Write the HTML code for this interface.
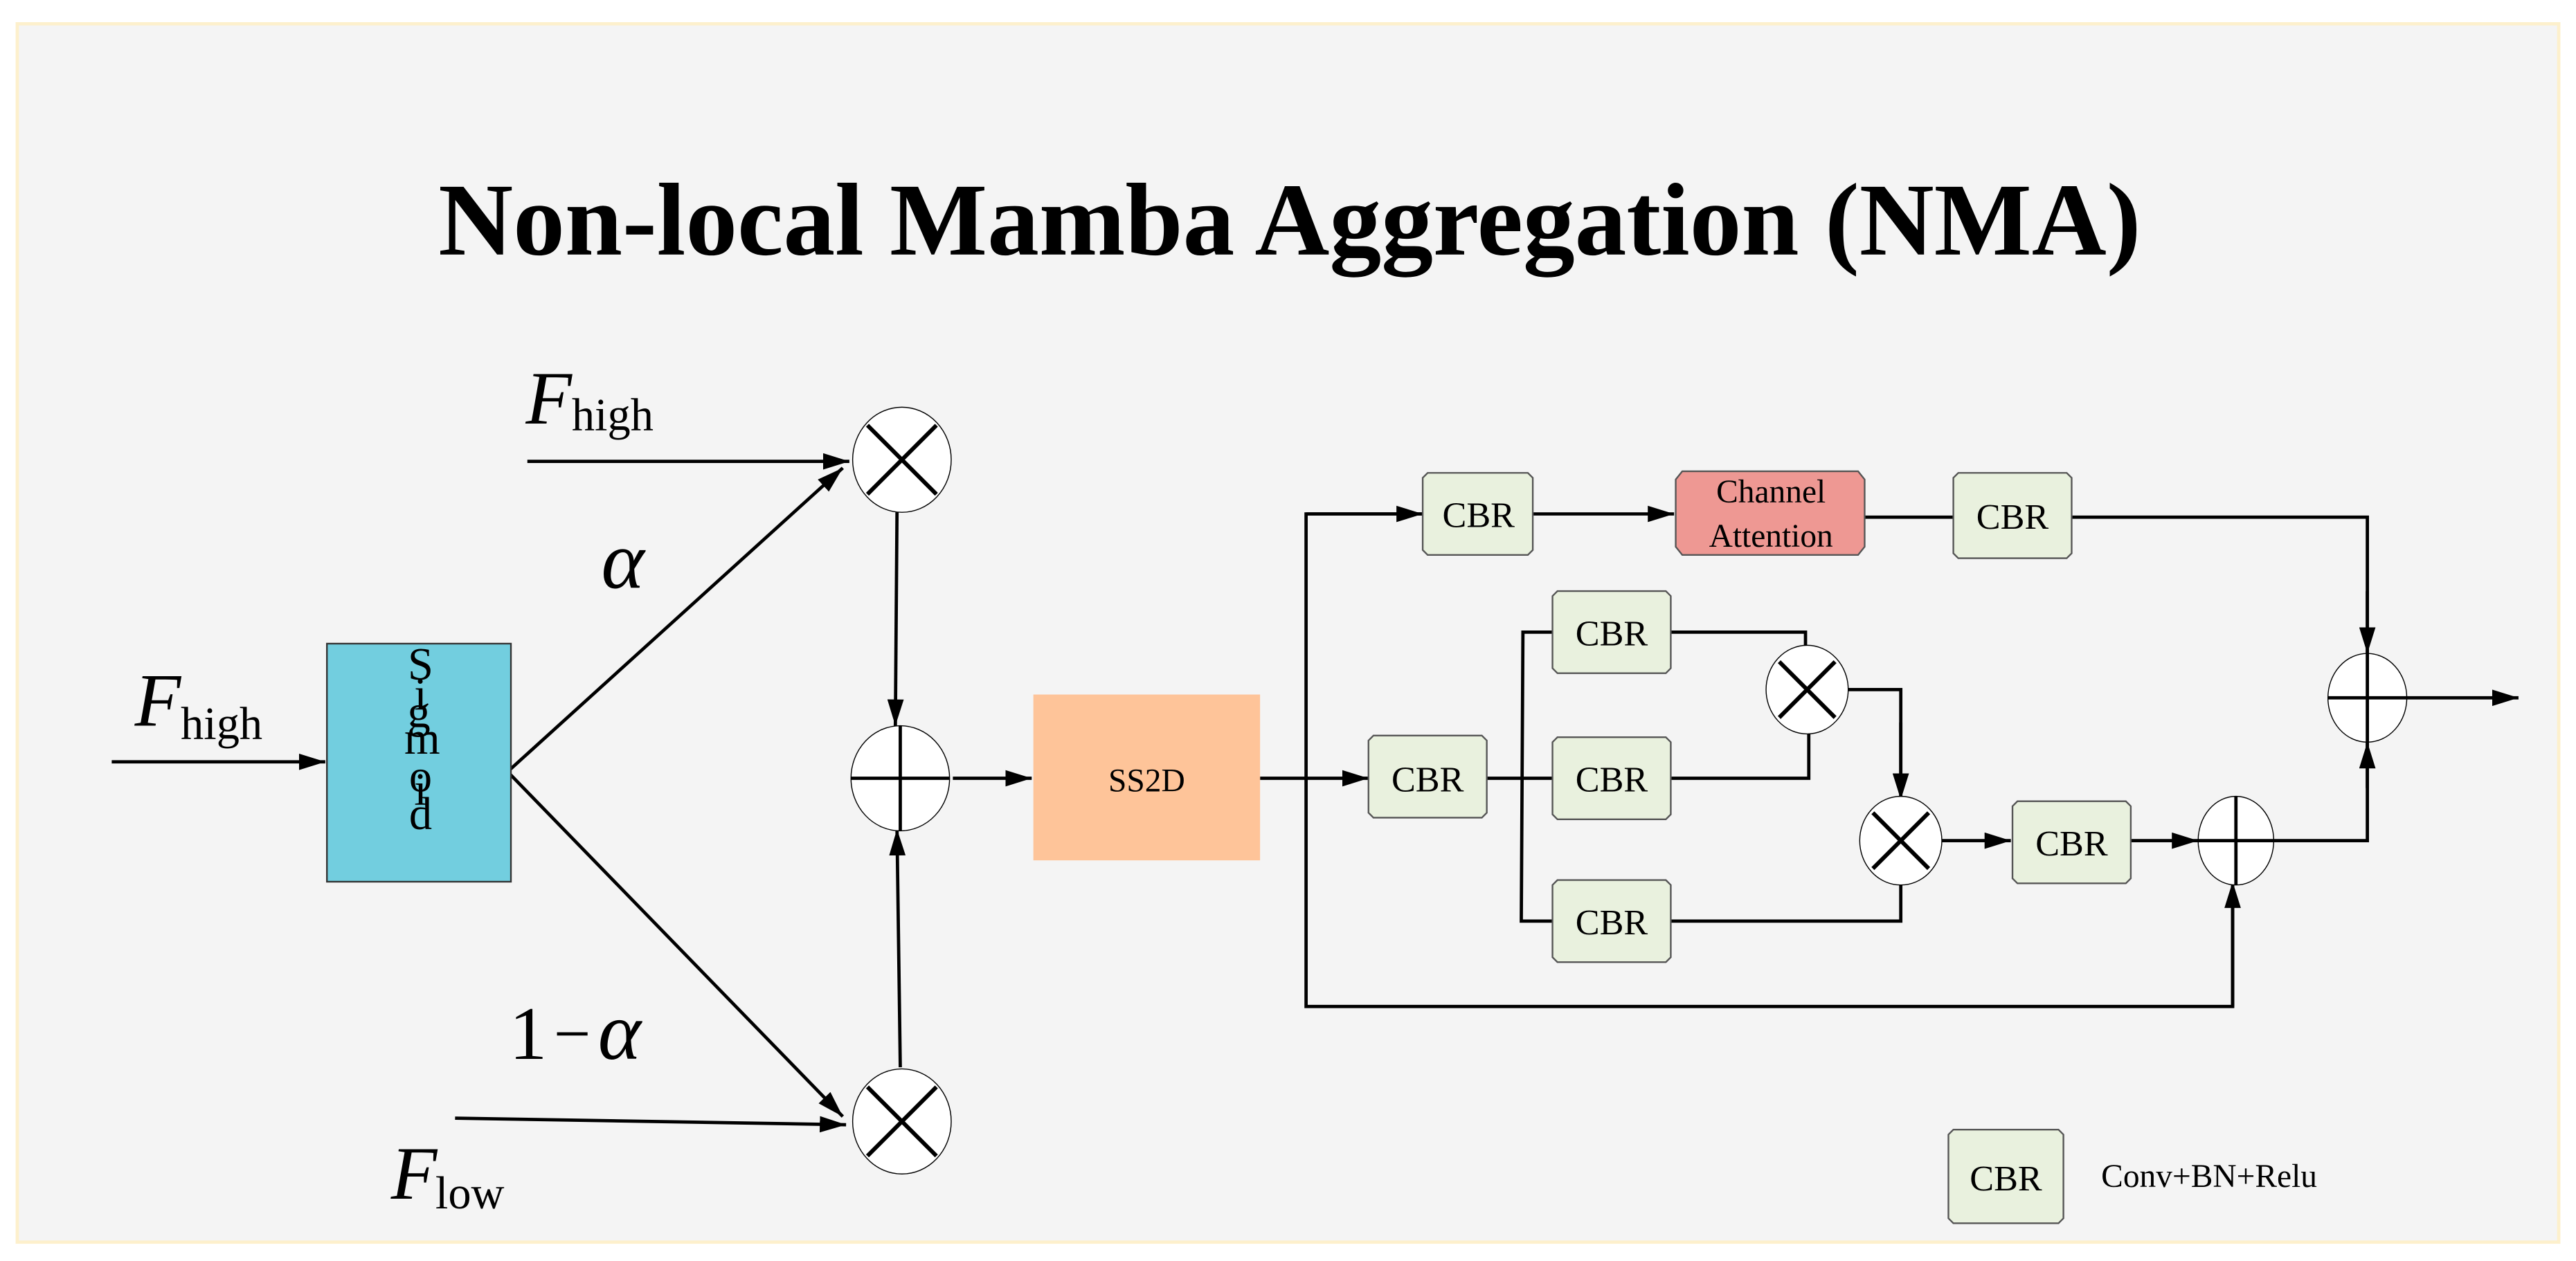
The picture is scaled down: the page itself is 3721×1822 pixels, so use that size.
<!DOCTYPE html>
<html><head><meta charset="utf-8"><style>
html,body{margin:0;padding:0;background:#fff;}
svg{display:block;}
text{font-family:"Liberation Serif",serif;}
</style></head><body>
<svg width="3721" height="1822" viewBox="0 0 1568 768" preserveAspectRatio="none" xmlns="http://www.w3.org/2000/svg">
<defs>
<marker id="b" viewBox="0 0 16 10" markerWidth="16" markerHeight="10" refX="16" refY="5" orient="auto" markerUnits="userSpaceOnUse"><path d="M0,0 L16,5 L0,10 Z" fill="#000"/></marker>
</defs>
<rect x="10.5" y="14.5" width="1547" height="742" fill="#f4f4f4" stroke="#fdf0cc" stroke-width="2"/>
<text x="785" y="155" text-anchor="middle" font-size="63" font-weight="bold">Non-local Mamba Aggregation (NMA)</text>

<g stroke="#000" stroke-width="2" fill="none">
<line x1="68" y1="464" x2="198" y2="464" marker-end="url(#b)"/>
<line x1="309" y1="470" x2="513" y2="285" marker-end="url(#b)"/>
<line x1="309" y1="470" x2="513" y2="680" marker-end="url(#b)"/>
<line x1="321" y1="281" x2="517" y2="281" marker-end="url(#b)"/>
<line x1="277" y1="681" x2="515" y2="685" marker-end="url(#b)"/>
<line x1="546" y1="312" x2="545" y2="442" marker-end="url(#b)"/>
<line x1="548" y1="650" x2="546" y2="505" marker-end="url(#b)"/>
<line x1="580" y1="474" x2="628" y2="474" marker-end="url(#b)"/>
<line x1="767" y1="474" x2="833" y2="474" marker-end="url(#b)"/>
<polyline points="866,313 795,313 795,613 1359,613 1359,537" />
<line x1="795" y1="313" x2="866" y2="313" marker-end="url(#b)"/>
<line x1="1359" y1="613" x2="1359" y2="537" marker-end="url(#b)"/>
<line x1="905" y1="474" x2="945" y2="474"/>
<polyline points="945,385 927,385 926,561 945,561"/>
<polyline points="1017,385 1099,385 1099,396"/>
<polyline points="1017,474 1101,474 1101,446"/>
<polyline points="1125,420 1157,420 1157,487"/>
<line x1="1157" y1="440" x2="1157" y2="487" marker-end="url(#b)"/>
<polyline points="1017,561 1157,561 1157,537"/>
<line x1="1182" y1="512" x2="1224" y2="512" marker-end="url(#b)"/>
<line x1="1297" y1="512" x2="1338" y2="512" marker-end="url(#b)"/>
<polyline points="1384,512 1441,512 1441,452"/>
<line x1="1441" y1="480" x2="1441" y2="452" marker-end="url(#b)"/>
<line x1="933" y1="313" x2="1019" y2="313" marker-end="url(#b)"/>
<line x1="1135" y1="315" x2="1189" y2="315"/>
<polyline points="1261,315 1441,315 1441,398"/>
<line x1="1441" y1="360" x2="1441" y2="398" marker-end="url(#b)"/>
<line x1="1465" y1="425" x2="1533" y2="425" marker-end="url(#b)"/>
</g>

<!-- sigmoid -->
<rect x="199" y="392" width="112" height="145" fill="#72cedf" stroke="#333" stroke-width="1"/>
<g font-size="28" text-anchor="middle">
<text x="256" y="414">S</text><text x="256" y="432">i</text><text x="255" y="443">g</text>
<text x="257" y="459">m</text><text x="256" y="482">o</text><text x="256" y="490">i</text><text x="256" y="505">d</text>
</g>

<!-- circles left -->
<g stroke="#000" fill="#fff">
<ellipse cx="549" cy="280" rx="30" ry="32" stroke-width="0.6"/>
<ellipse cx="548" cy="474" rx="30" ry="32" stroke-width="0.6"/>
<ellipse cx="549" cy="683" rx="30" ry="32" stroke-width="0.6"/>
</g>
<g stroke="#000" stroke-width="2.5">
<line x1="528" y1="259" x2="570" y2="301"/><line x1="570" y1="259" x2="528" y2="301"/>
<line x1="528" y1="662" x2="570" y2="704"/><line x1="570" y1="662" x2="528" y2="704"/>
<line x1="518" y1="474" x2="578" y2="474" stroke-width="2"/><line x1="548" y1="442" x2="548" y2="506" stroke-width="2"/>
</g>

<rect x="629" y="423" width="138" height="101" fill="#fec499"/>
<text x="698" y="482" font-size="20" text-anchor="middle">SS2D</text>

<g font-style="italic" font-size="46">
<text x="82" y="442">F</text><text x="320" y="258">F</text><text x="238" y="730">F</text>
<text x="366" y="358" font-size="50">α</text>
</g>
<g font-size="28">
<text x="110" y="450">high</text><text x="348" y="262">high</text><text x="265" y="736">low</text>
</g>
<text x="310" y="645" font-size="46">1</text>
<text x="337" y="643" font-size="40">−</text>
<text x="364" y="645" font-size="50" font-style="italic">α</text>

<!-- CBR boxes -->
<g fill="#e9f1de" stroke="#555" stroke-width="1">
<path d="M869,288 H930 L933,291 V335 L930,338 H869 L866,335 V291 Z"/>
<path d="M1192,288 H1258 L1261,291 V337 L1258,340 H1192 L1189,337 V291 Z"/>
<path d="M836,448 H902 L905,451 V495 L902,498 H836 L833,495 V451 Z"/>
<path d="M948,360 H1014 L1017,363 V407 L1014,410 H948 L945,407 V363 Z"/>
<path d="M948,449 H1014 L1017,452 V496 L1014,499 H948 L945,496 V452 Z"/>
<path d="M948,536 H1014 L1017,539 V583 L1014,586 H948 L945,583 V539 Z"/>
<path d="M1228,488 H1294 L1297,491 V535 L1294,538 H1228 L1225,535 V491 Z"/>
<path d="M1189,688 H1253 L1256,691 V742 L1253,745 H1189 L1186,742 V691 Z"/>
</g>
<path d="M1024,287 H1131 L1135,292 V333 L1131,338 H1024 L1020,333 V292 Z" fill="#ee9893" stroke="#555" stroke-width="1"/>
<g font-size="22" text-anchor="middle">
<text x="900" y="321">CBR</text><text x="1225" y="322">CBR</text>
<text x="869" y="482">CBR</text><text x="981" y="393">CBR</text>
<text x="981" y="482">CBR</text><text x="981" y="569">CBR</text>
<text x="1261" y="521">CBR</text><text x="1221" y="725">CBR</text>
<text x="1078" y="306" font-size="20">Channel</text><text x="1078" y="333" font-size="20">Attention</text>
</g>
<text x="1279" y="723" font-size="20">Conv+BN+Relu</text>

<!-- circles right -->
<g stroke="#000" fill="#fff" stroke-width="0.6">
<ellipse cx="1100" cy="420" rx="25" ry="27"/>
<ellipse cx="1157" cy="512" rx="25" ry="27"/>
<ellipse cx="1361" cy="512" rx="23" ry="27"/>
<ellipse cx="1441" cy="425" rx="24" ry="27"/>
</g>
<g stroke="#000" stroke-width="2.5">
<line x1="1083" y1="403" x2="1117" y2="437"/><line x1="1117" y1="403" x2="1083" y2="437"/>
<line x1="1140" y1="495" x2="1174" y2="529"/><line x1="1174" y1="495" x2="1140" y2="529"/>
<line x1="1338" y1="512" x2="1384" y2="512" stroke-width="2"/><line x1="1361" y1="485" x2="1361" y2="539" stroke-width="2"/>
<line x1="1417" y1="425" x2="1465" y2="425" stroke-width="2"/><line x1="1441" y1="398" x2="1441" y2="452" stroke-width="2"/>
</g>
</svg>
</body></html>
